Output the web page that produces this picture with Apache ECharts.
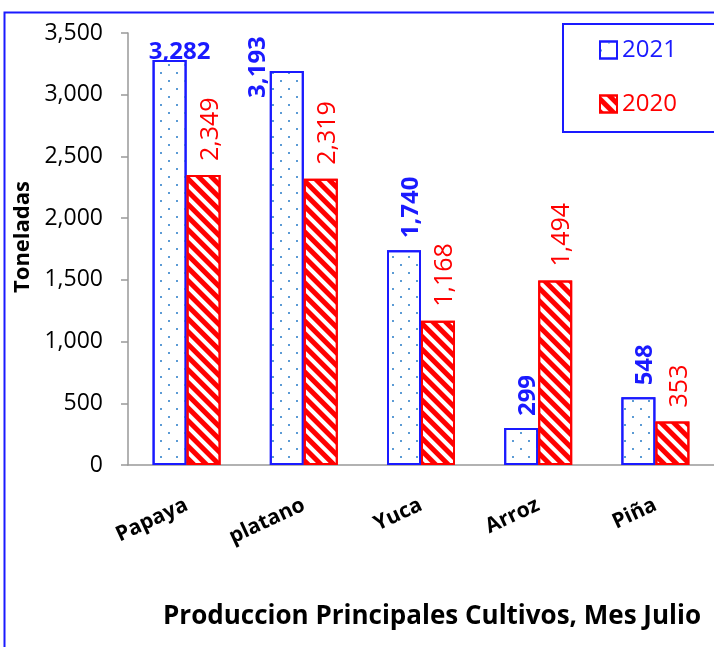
<!DOCTYPE html>
<html>
<head>
<meta charset="utf-8">
<script src="https://cdn.jsdelivr.net/npm/echarts@6/dist/echarts.min.js"></script>
<style>
  html, body { margin: 0; padding: 0; background: #fff; }
  #main { width: 714px; height: 647px; }
</style>
</head>
<body>
<div id="main"></div>
<script>
// chart values
const cultivos = ['Papaya', 'platano', 'Yuca', 'Arroz', 'Piña'];
const valores2021 = [3282, 3193, 1740, 299, 548];
const valores2020 = [2349, 2319, 1168, 1494, 353];
const yTicks = [0, 500, 1000, 1500, 2000, 2500, 3000, 3500];

const BLUE = '#1a1aff';
const RED = '#ff0000';
const FONT = 'Open Sans';

const fmt = v => Number(v).toLocaleString('en-US');

// 2021 labels: a couple of them are placed differently in the original
// (offset of a rotated label is in the label's own frame: [along text, across text])
const data2021 = valores2021.map((v, i) => {
  if (i === 0) {
    return { value: v, label: { rotate: 0, align: 'center', verticalAlign: 'bottom', distance: -4, offset: [10, 0] } };
  }
  if (i === 1) {
    return { value: v, label: { distance: 0, offset: [-27, -29] } };
  }
  return v;
});

var myChart = echarts.init(document.getElementById('main'));

var option = {
  animation: false,
  graphic: [{
    type: 'rect',
    left: 2, top: 10,
    shape: { width: 760, height: 700 },
    style: { fill: 'none', stroke: BLUE, lineWidth: 2 },
    silent: true
  }],
  legend: {
    orient: 'vertical',
    left: 563, top: 24,
    padding: [14, 50, 16, 36],
    itemGap: 30,
    itemWidth: 17, itemHeight: 17,
    icon: 'rect',
    borderColor: BLUE, borderWidth: 2,
    textStyle: { fontFamily: FONT, fontSize: 24 },
    data: [
      { name: '2021', textStyle: { color: BLUE } },
      { name: '2020', textStyle: { color: RED } }
    ]
  },
  grid: { left: 128, right: 0, top: 33, bottom: 182 },
  xAxis: {
    type: 'category',
    data: cultivos,
    axisLine: { lineStyle: { color: '#999', width: 1.5 } },
    axisTick: { show: false },
    axisLabel: {
      interval: 0, rotate: 25, margin: 39,
      fontFamily: FONT, fontWeight: 'bold', fontSize: 21, color: '#000'
    },
    name: 'Produccion Principales Cultivos, Mes Julio',
    nameLocation: 'middle',
    nameGap: 139,
    nameTextStyle: { fontFamily: FONT, fontWeight: 'bold', fontSize: 26, color: '#000', padding: [0, 0, 0, 22] }
  },
  yAxis: {
    type: 'value',
    min: yTicks[0], max: yTicks[yTicks.length - 1], interval: yTicks[1] - yTicks[0],
    axisLine: { show: true, lineStyle: { color: '#999', width: 1.5 } },
    axisTick: { show: true, length: 7, lineStyle: { color: '#999', width: 1.5 } },
    splitLine: { show: false },
    axisLabel: { formatter: fmt, margin: 25, fontFamily: FONT, fontSize: 23, color: '#000' },
    name: 'Toneladas',
    nameLocation: 'middle',
    nameGap: 88,
    nameTextStyle: { fontFamily: FONT, fontWeight: 'bold', fontSize: 22, color: '#000', padding: [0, 0, 0, 24] }
  },
  series: [
    {
      name: '2021',
      type: 'bar',
      data: data2021,
      barWidth: 34,
      barGap: '0%',
      itemStyle: {
        color: '#fff', borderColor: BLUE, borderWidth: 2,
        decal: {
          symbol: 'rect', symbolSize: 1, color: '#5b9bd5',
          dashArrayX: [[2, 14], [0, 8, 2, 6]],
          dashArrayY: [2, 6]
        }
      },
      label: {
        show: true, position: 'top', rotate: 90, align: 'left', verticalAlign: 'middle',
        distance: 12, offset: [0, 7], formatter: p => fmt(p.value),
        fontFamily: FONT, fontWeight: 'bold', fontSize: 24, color: BLUE
      }
    },
    {
      name: '2020',
      type: 'bar',
      data: valores2020,
      barWidth: 34,
      itemStyle: {
        color: '#fff', borderColor: RED, borderWidth: 2,
        decal: {
          symbol: 'rect', symbolSize: 1, color: RED,
          dashArrayX: [1, 0],
          dashArrayY: [5, 4],
          rotation: Math.PI / 4
        }
      },
      label: {
        show: true, position: 'top', rotate: 90, align: 'left', verticalAlign: 'middle',
        distance: 14, offset: [0, 7], formatter: p => fmt(p.value),
        fontFamily: FONT, fontSize: 25, color: RED
      }
    }
  ]
};

myChart.setOption(option);
</script>
</body>
</html>
